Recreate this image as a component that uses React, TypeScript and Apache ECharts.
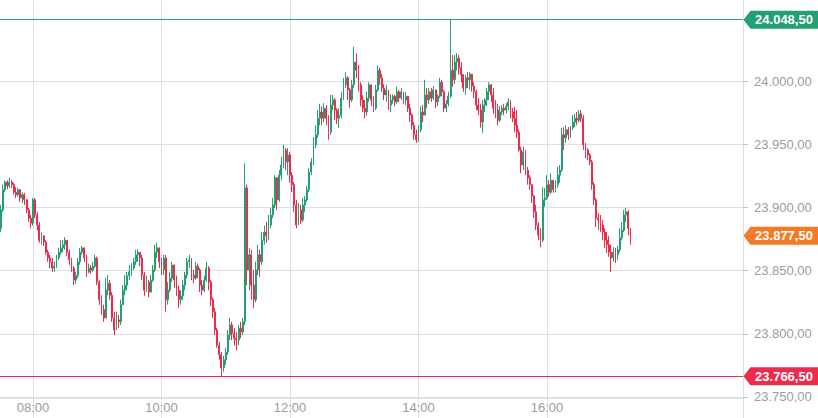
import { useEffect, useRef } from "react";
import * as echarts from "echarts";

// 2-minute bars starting 07:30 (minutes after midnight)
const startMinute = 450;
const barMinutes = 2;
const firstOpen = 23883.5;

const closes = [
  23898, 23914, 23920, 23917, 23920, 23918, 23912, 23910, 23914, 23907.5,
  23910, 23906, 23898, 23891.5, 23887.5, 23906, 23894, 23886, 23874, 23877.5,
  23872.5, 23864.5, 23860, 23857, 23852, 23853.5, 23860, 23864.5, 23868, 23870.5,
  23874, 23864.5, 23858.5, 23852, 23842.5, 23846, 23857, 23864.5, 23868, 23860,
  23849, 23852, 23850.5, 23853.5, 23860, 23841, 23827, 23819, 23812.5, 23834.5,
  23840, 23830.5, 23812.5, 23803, 23811, 23809.5, 23823, 23834.5, 23838.5, 23846,
  23849, 23852, 23857, 23862.5, 23864.5, 23860, 23846.5, 23834.5, 23841, 23833,
  23842.5, 23850.5, 23864.5, 23868, 23857, 23850.5, 23860, 23827, 23834.5, 23844,
  23854.5, 23842.5, 23834.5, 23827, 23830, 23838.5, 23846.5, 23857, 23858.5, 23846.5,
  23844, 23853.5, 23850.5, 23838.5, 23834.5, 23842.5, 23852, 23841, 23827, 23817.5,
  23803, 23791, 23783.5, 23773, 23779.5, 23785.5, 23799, 23807, 23800.5, 23796.5,
  23795, 23804.5, 23801.5, 23809.5, 23915.5, 23850.5, 23862.5, 23838.5, 23827, 23850.5,
  23862.5, 23857, 23874, 23880.5, 23877.5, 23886, 23894, 23902, 23923.5, 23906,
  23925.5, 23933.5, 23945.5, 23936, 23941.5, 23925.5, 23918, 23902, 23886, 23898,
  23890, 23902, 23906, 23914, 23928, 23936, 23949.5, 23957.5, 23970.5, 23975.5,
  23970.5, 23978.5, 23970.5, 23959.5, 23981, 23985, 23977, 23970.5, 23973, 23986.5,
  23997, 24002.5, 23993, 23985, 23997, 24015, 24008.5, 23997, 23985, 23978.5,
  23975.5, 23986.5, 23997, 23985, 23978.5, 23993, 24008.5, 24002.5, 23994.5, 23989,
  23993, 23981, 23985, 23988, 23983.5, 23991.5, 23986.5, 23991.5, 23985, 23988,
  23978.5, 23973, 23965, 23957.5, 23953.5, 23961.5, 23975.5, 23973, 23989, 23985,
  23991.5, 23986.5, 23993, 23983.5, 23988, 23999, 23991.5, 23978.5, 23982, 23988,
  24008.5, 24001, 24015, 24018, 24010.5, 24005, 23994.5, 24002.5, 24001, 24005.5,
  23996, 23991.5, 23981, 23977, 23967.5, 23981, 23985, 23991.5, 23997, 23989,
  23978.5, 23977, 23969, 23975.5, 23978.5, 23977, 23980, 23983.5, 23975.5, 23970.5,
  23965, 23959.5, 23945.5, 23933.5, 23944, 23929.5, 23923.5, 23918, 23909, 23896.5,
  23886, 23878, 23874, 23906, 23907.5, 23918, 23912, 23921.5, 23914, 23918,
  23925.5, 23929.5, 23957.5, 23955, 23961.5, 23957.5, 23963, 23967.5, 23970.5, 23969,
  23974, 23970.5, 23949.5, 23945.5, 23941.5, 23936, 23918, 23906, 23891.5, 23890,
  23886, 23880.5, 23874, 23870.5, 23864.5, 23860, 23864.5, 23862.5, 23866.5, 23876,
  23882, 23894, 23896.5, 23883.5, 23877.5,
];

const highs = [
  23902, 23918, 23921.5, 23921.5, 23923.5, 23921.5, 23919.5, 23916, 23915.5, 23914.5,
  23912, 23911.5, 23906.5, 23899.5, 23894, 23907.5, 23907.5, 23896.5, 23888.5, 23880,
  23878, 23874, 23866.5, 23862.5, 23860, 23857, 23862.5, 23868, 23874, 23874,
  23876.5, 23874, 23866.5, 23860, 23853.5, 23849, 23860, 23868, 23869.5, 23866.5,
  23862.5, 23855.5, 23854.5, 23857, 23862.5, 23861, 23842.5, 23830.5, 23823, 23844,
  23846.5, 23842.5, 23833, 23817.5, 23817.5, 23815, 23827, 23838.5, 23846.5, 23849,
  23854.5, 23856, 23860, 23866.5, 23867, 23864.5, 23862.5, 23849, 23846, 23842.5,
  23846.5, 23854.5, 23870.5, 23872, 23866.5, 23860, 23862.5, 23862.5, 23841, 23849,
  23857, 23854.5, 23846, 23838, 23834.5, 23842.5, 23849, 23860, 23862.5, 23860,
  23850.5, 23857, 23855.5, 23852, 23842.5, 23846, 23857, 23853.5, 23842.5, 23828.5,
  23820.5, 23804.5, 23793.5, 23785.5, 23782.5, 23789, 23803, 23812.5, 23809.5, 23804.5,
  23801.5, 23807, 23809.5, 23812.5, 23935, 23918, 23868, 23866.5, 23850.5, 23857,
  23870.5, 23866.5, 23880.5, 23885.5, 23888.5, 23894, 23899.5, 23907.5, 23925.5, 23921.5,
  23929.5, 23940, 23949.5, 23947, 23947, 23944, 23928, 23920, 23906, 23903.5,
  23902, 23907.5, 23909, 23917, 23931, 23939, 23955.5, 23965, 23977, 23982,
  23980, 23982.5, 23981, 23973, 23989, 23989, 23986.5, 23978.5, 23978.5, 23991.5,
  24002.5, 24007, 24004, 23994.5, 24001, 24027, 24022, 24012.5, 23999, 23989,
  23985, 23991.5, 23999, 23994.5, 23988, 23997, 24012.5, 24010.5, 24005.5, 23997.5,
  23997, 23993, 23989.5, 23989.5, 23989, 23995.5, 23993, 23994.5, 23991.5, 23991.5,
  23988, 23982, 23974.5, 23967.5, 23961.5, 23965, 23980, 23981, 24001, 23994.5,
  23994.5, 23994.5, 23996, 23993, 23989.5, 24002.5, 24001, 23993, 23985, 23991.5,
  24048.5, 24020.5, 24020.5, 24022, 24020.5, 24015, 24005.5, 24005, 24007, 24007,
  24005, 23999, 23993, 23986.5, 23982, 23985, 23986.5, 23994.5, 23999, 23997.5,
  23994.5, 23985, 23982, 23980, 23981, 23982, 23982.5, 23986.5, 23985, 23978.5,
  23979.5, 23977, 23961.5, 23948, 23948, 23945.5, 23932, 23925.5, 23918, 23910,
  23902, 23888.5, 23883.5, 23916, 23915.5, 23925.5, 23921.5, 23927, 23921.5, 23921.5,
  23932, 23933.5, 23963, 23963.5, 23965, 23963.5, 23964.5, 23973, 23974, 23975.5,
  23977, 23977, 23973, 23951, 23947, 23943, 23937.5, 23920, 23907.5, 23895.5,
  23894, 23890, 23883.5, 23880.5, 23877.5, 23870.5, 23868.5, 23868, 23869.5, 23883.5,
  23888.5, 23898, 23899.5, 23898, 23882,
];

const lows = [
  23880.5, 23896.5, 23912, 23914.5, 23915.5, 23915.5, 23910, 23907.5, 23908.5, 23904.5,
  23903.5, 23902, 23895.5, 23888.5, 23883.5, 23885.5, 23891.5, 23882, 23872, 23870.5,
  23869.5, 23862.5, 23857, 23852, 23849, 23849, 23852, 23858.5, 23862.5, 23864.5,
  23866.5, 23861.5, 23854.5, 23849, 23838.5, 23839.5, 23844, 23854.5, 23862.5, 23857,
  23845, 23848, 23847.5, 23849, 23852, 23838.5, 23823, 23815, 23809.5, 23812.5,
  23830.5, 23827, 23809.5, 23799, 23803, 23804.5, 23807, 23823, 23830.5, 23834.5,
  23842.5, 23846, 23850.5, 23854.5, 23857, 23853.5, 23842.5, 23830, 23833, 23829,
  23832.5, 23841, 23849, 23860, 23852, 23846.5, 23846.5, 23817.5, 23823, 23833,
  23841, 23836.5, 23830, 23820.5, 23823, 23827, 23834.5, 23844, 23852, 23842.5,
  23840, 23842.5, 23844, 23833, 23830.5, 23833, 23841, 23834.5, 23822, 23812.5,
  23799, 23789, 23779.5, 23766.5, 23770, 23775.5, 23783.5, 23795, 23795, 23790.5,
  23787, 23791, 23796.5, 23799, 23807, 23838.5, 23834.5, 23827, 23820.5, 23825,
  23846.5, 23845, 23854.5, 23870.5, 23872, 23874, 23883.5, 23891.5, 23899.5, 23898,
  23904.5, 23921.5, 23931, 23929.5, 23925.5, 23919.5, 23912, 23896.5, 23883.5, 23888.5,
  23887, 23888.5, 23896.5, 23904.5, 23912, 23925.5, 23933.5, 23947, 23955, 23965,
  23965, 23967.5, 23965, 23953.5, 23957.5, 23977, 23969, 23966, 23963, 23970.5,
  23985, 23994.5, 23985, 23978.5, 23983.5, 23994.5, 24002.5, 23991.5, 23980, 23975.5,
  23970.5, 23972.5, 23983.5, 23980, 23975.5, 23977, 23991.5, 23997, 23991.5, 23985,
  23983.5, 23977, 23975.5, 23982, 23980, 23982, 23983.5, 23985, 23982, 23981,
  23975.5, 23967.5, 23961.5, 23953.5, 23951, 23952, 23959.5, 23967.5, 23973, 23978.5,
  23982, 23983.5, 23985, 23978.5, 23980, 23986.5, 23988, 23975.5, 23975.5, 23980,
  23986.5, 23995.5, 23997.5, 24008.5, 24005, 23999, 23991.5, 23989, 23994.5, 23993,
  23991.5, 23986.5, 23977, 23973, 23963, 23959, 23975.5, 23980, 23985, 23983.5,
  23974, 23970.5, 23965, 23967.5, 23973, 23973, 23974.5, 23977, 23970.5, 23967.5,
  23959.5, 23955, 23944, 23927, 23929.5, 23925.5, 23918, 23914, 23903.5, 23891.5,
  23882, 23874, 23868.5, 23872.5, 23900.5, 23906, 23908.5, 23910.5, 23911.5, 23912,
  23915.5, 23919.5, 23928, 23945.5, 23951, 23953.5, 23955, 23961.5, 23963.5, 23965,
  23967, 23967.5, 23945.5, 23939, 23937.5, 23933.5, 23914, 23902, 23884.5, 23882,
  23880.5, 23874, 23868, 23864, 23861, 23849, 23857, 23856, 23858.5, 23864.5,
  23874, 23880.5, 23888.5, 23878, 23870.5,
];

const yTicks = [23750, 23800, 23850, 23900, 23950, 24000];
const xTickLabels = ["08:00", "10:00", "12:00", "14:00", "16:00"];

const GREEN = "#22a073";
const RED = "#ee2b4b";
const ORANGE = "#f47b25";
const GRID_COLOR = "#dedee6";
const LABEL_COLOR = "#9c9c9c";
const FONT = "'Liberation Sans', Arial, Helvetica, sans-serif";

const X_MIN = 449.2;
const X_MAX = 1143.1;
const Y_MIN = 23749.2;
const Y_MAX = 24064.1;

const toMin = (s: string) => parseInt(s.slice(0, 2), 10) * 60 + parseInt(s.slice(3), 10);
const minToHHMM = (m: number) => {
  const h = Math.floor(m / 60);
  const mm = Math.round(m - h * 60);
  return String(h).padStart(2, "0") + ":" + String(mm).padStart(2, "0");
};
const fmt = (v: number) => {
  const [i, d] = v.toFixed(2).split(".");
  return i.replace(/\B(?=(\d{3})+(?!\d))/g, ".") + "," + d;
};

export default function App() {
  const ref = useRef<HTMLDivElement>(null);

  useEffect(() => {
    if (!ref.current) return;
    const chart = echarts.init(ref.current, undefined, { renderer: "svg" });
    const n = Math.min(closes.length, highs.length, lows.length);
    const data: number[][] = [];
    for (let i = 0; i < n; i++) {
      const o = i === 0 ? firstOpen : closes[i - 1];
      const c = closes[i];
      const h = Math.max(highs[i], o, c);
      const l = Math.min(lows[i], o, c);
      data.push([startMinute + i * barMinutes, o, c, l, h]);
    }
    const hi = Math.max(...highs.slice(0, n));
    const lo = Math.min(...lows.slice(0, n));
    const last = closes[n - 1];
    const tagPath = "path://M0,9L7,0L75,0L75,18L7,18Z";
    const tagLabel = {
      show: true,
      position: "inside",
      color: "#ffffff",
      fontWeight: "bold",
      fontSize: 13,
      fontFamily: FONT,
      offset: [3, 0],
      formatter: (p: any) => fmt(p.value),
    };

    chart.setOption({
      animation: false,
      backgroundColor: "#ffffff",
      grid: { left: 0, right: 75, top: 0, bottom: 20, containLabel: false },
      xAxis: {
        type: "value",
        min: X_MIN,
        max: X_MAX,
        axisLine: { show: true, lineStyle: { color: GRID_COLOR, width: 1 } },
        axisTick: {
          show: true,
          length: 20,
          customValues: [...xTickLabels.map(toMin), X_MAX],
          lineStyle: { color: GRID_COLOR },
        },
        axisLabel: {
          customValues: xTickLabels.map(toMin),
          formatter: (v: number) => minToHHMM(v),
          color: LABEL_COLOR,
          fontSize: 13,
          fontFamily: FONT,
          margin: 3,
        },
        splitLine: { show: true, lineStyle: { color: GRID_COLOR, width: 1 } },
      },
      yAxis: {
        type: "value",
        position: "right",
        min: Y_MIN,
        max: Y_MAX,
        scale: true,
        axisLine: { show: true, lineStyle: { color: GRID_COLOR, width: 1 } },
        axisTick: {
          show: true,
          length: 5,
          customValues: yTicks,
          lineStyle: { color: "#c4c4cc" },
        },
        axisLabel: {
          customValues: yTicks,
          formatter: (v: number) => fmt(v),
          color: LABEL_COLOR,
          fontSize: 13,
          fontFamily: FONT,
          margin: 11,
        },
        splitLine: { show: true, lineStyle: { color: GRID_COLOR, width: 1 } },
      },
      series: [
        {
          type: "candlestick",
          data,
          encode: { x: 0, y: [1, 2, 3, 4] },
          barWidth: 1.4,
          itemStyle: {
            color: GREEN,
            color0: RED,
            borderColor: GREEN,
            borderColor0: RED,
            borderColorDoji: GREEN,
            borderWidth: 1,
          },
          markLine: {
            silent: true,
            symbol: ["none", "none"],
            label: { show: false },
            lineStyle: { type: "solid", width: 1 },
            data: [
              { yAxis: hi, lineStyle: { color: GREEN, type: "solid", width: 1 } },
              { yAxis: lo, lineStyle: { color: RED, type: "solid", width: 1 } },
            ],
          },
          markPoint: {
            silent: true,
            symbol: tagPath,
            symbolSize: [75, 18],
            symbolOffset: [38, 0],
            label: tagLabel,
            data: [
              { coord: [X_MAX, hi], value: hi, itemStyle: { color: GREEN } },
              { coord: [X_MAX, last], value: last, itemStyle: { color: ORANGE } },
              { coord: [X_MAX, lo], value: lo, itemStyle: { color: RED } },
            ],
          },
        },
      ],
    });
    return () => chart.dispose();
  }, []);

  return (
    <div
      ref={ref}
      style={{ position: "fixed", left: 0, top: 0, width: 818, height: 418 }}
    />
  );
}
